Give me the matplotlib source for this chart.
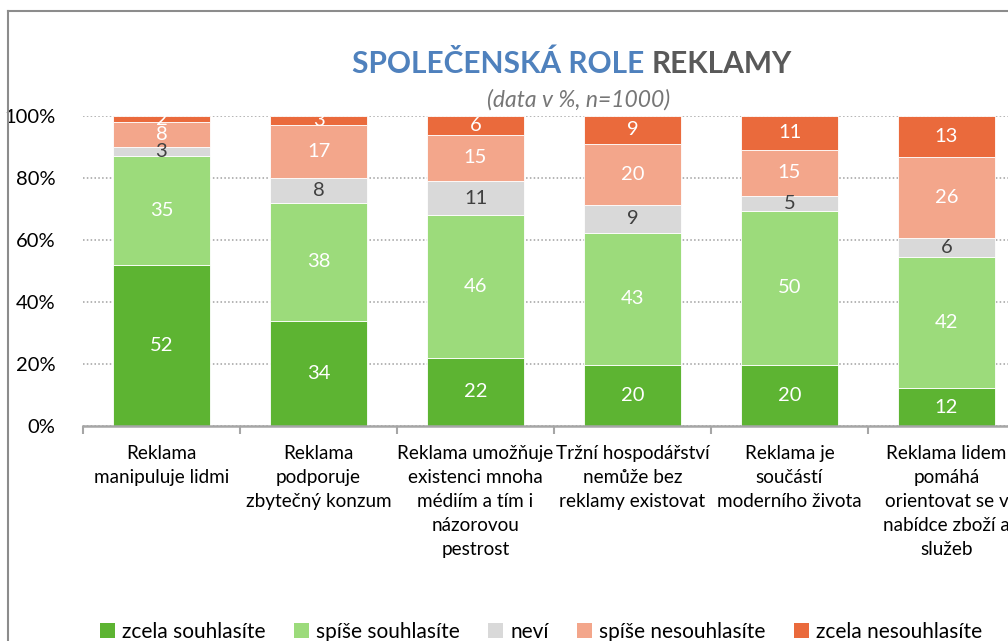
import numpy as np
import matplotlib.pyplot as plt
from matplotlib.patches import Patch
from matplotlib.lines import Line2D

categories = [
    "Reklama\nmanipuluje lidmi",
    "Reklama\npodporuje\nzbytečný konzum",
    "Reklama umožňuje\nexistenci mnoha\nmédiím a tím i\nnázorovou\npestrost",
    "Tržní hospodářství\nnemůže bez\nreklamy existovat",
    "Reklama je\nsoučástí\nmoderního života",
    "Reklama lidem\npomáhá\norientovat se v\nnabídce zboží a\nslužeb",
]
series_names = ["zcela souhlasíte", "spíše souhlasíte", "neví",
                "spíše nesouhlasíte", "zcela nesouhlasíte"]
zcela_souhlasite = [52, 34, 22, 20, 20, 12]
spise_souhlasite = [35, 38, 46, 43, 50, 42]
nevi = [3, 8, 11, 9, 5, 6]
spise_nesouhlasite = [8, 17, 15, 20, 15, 26]
zcela_nesouhlasite = [2, 3, 6, 9, 11, 13]

colors = ["#5DB432", "#9CDB7B", "#D9D9D9", "#F3A68B", "#EA6A3C"]
label_colors = ["white", "white", "#404040", "white", "white"]

plt.rcParams['font.family'] = ['Lato', 'DejaVu Sans']

data = np.array([zcela_souhlasite, spise_souhlasite, nevi,
                 spise_nesouhlasite, zcela_nesouhlasite], dtype=float)
shares = data / data.sum(axis=0) * 100

fig = plt.figure(figsize=(10.08, 6.41), dpi=100)
ax = fig.add_axes([83 / 1008, 1 - 426 / 641, 942 / 1008, 310 / 641])

x = np.arange(len(categories))
bottom = np.zeros(len(categories))
for i in range(len(series_names)):
    ax.bar(x, shares[i], 0.62, bottom=bottom, color=colors[i],
           edgecolor='white', linewidth=0.6, zorder=3, label=series_names[i])
    for j in range(len(categories)):
        ax.text(x[j], bottom[j] + shares[i][j] / 2, f"{int(data[i][j])}",
                ha='center', va='center', fontsize=14.5,
                color=label_colors[i], zorder=4)
    bottom += shares[i]

ax.set_xlim(-0.5, len(categories) - 0.5)
ax.set_ylim(0, 100)
ax.set_yticks(range(0, 101, 20))
ax.set_yticklabels([f"{v}%" for v in range(0, 101, 20)], fontsize=14.5)
ax.yaxis.grid(True, color='#A0A0A0', linestyle=(0, (1, 1.5)), linewidth=1.1, zorder=0)
ax.tick_params(axis='y', length=0, pad=20)

ax.set_xticks(x)
ax.set_xticklabels(categories, fontsize=13.6, linespacing=1.5)
ax.set_xticks(np.arange(-0.5, len(categories), 1), minor=True)
ax.tick_params(axis='x', which='major', length=0, pad=14)
ax.tick_params(axis='x', which='minor', length=6, color='#A6A6A6', width=1.5)

for s in ['top', 'right', 'left']:
    ax.spines[s].set_visible(False)
ax.spines['bottom'].set_color('#A6A6A6')
ax.spines['bottom'].set_linewidth(1.8)
ax.spines['bottom'].set_zorder(5)

# title in two colours
renderer = fig.canvas.get_renderer()
t1 = fig.text(352 / 1008, 1 - 64 / 641, "SPOLEČENSKÁ ROLE ", color='#4F81BD',
              fontsize=21.5, fontweight='bold', va='center', ha='left')
bb = t1.get_window_extent(renderer)
fig.text(bb.x1 / 1008, 1 - 64 / 641, "REKLAMY", color='#595959',
         fontsize=21.5, fontweight='bold', va='center', ha='left')
fig.text(579 / 1008, 1 - 100 / 641, "(data v %, n=1000)", color='#767676',
         fontsize=16.5, style='italic', ha='center', va='center')

# chart border
fig.add_artist(Line2D([8 / 1008, 8 / 1008], [0, 1 - 11 / 641],
                      transform=fig.transFigure, color='#8C8C8C', linewidth=1.5))
fig.add_artist(Line2D([8 / 1008, 1], [1 - 11 / 641, 1 - 11 / 641],
                      transform=fig.transFigure, color='#8C8C8C', linewidth=1.5))

handles = [Patch(facecolor=c, edgecolor='none') for c in colors]
fig.legend(handles, series_names, loc='center', bbox_to_anchor=(0.537, 1 - 632 / 641),
           ncol=5, frameon=False, fontsize=15, handlelength=0.7, handleheight=0.7,
           handletextpad=0.35, columnspacing=1.37)

fig.savefig("out.png", dpi=100)
